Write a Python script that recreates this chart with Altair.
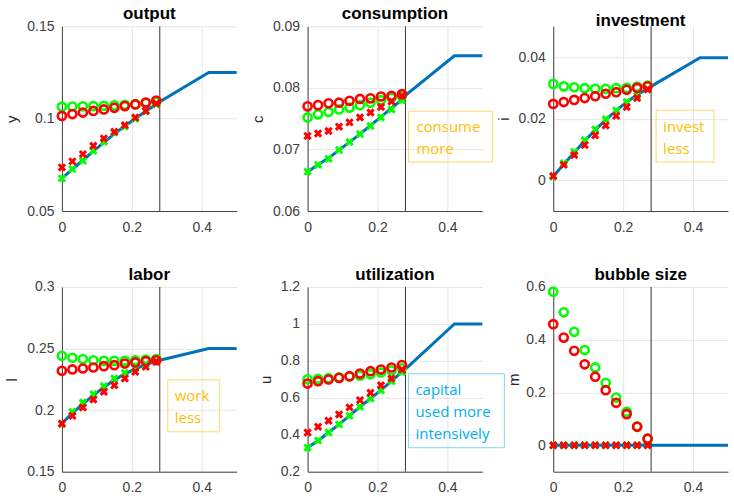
import altair as alt
import pandas as pd

# marker x positions and blue-line x positions
mx = [0, 0.03, 0.06, 0.09, 0.12, 0.15, 0.18, 0.21, 0.24, 0.27]
lx = [0, 0.03, 0.06, 0.09, 0.12, 0.15, 0.18, 0.21, 0.24, 0.27, 0.28, 0.42, 0.5]
x_ticks = [0, 0.2, 0.4]
cutoff = 0.28

# output
out_line = [0.0677, 0.0727, 0.0775, 0.0824, 0.0872, 0.0918, 0.0960, 0.1001, 0.1040, 0.1078, 0.1092, 0.125, 0.125]
out_gx = [0.0677, 0.0727, 0.0772, 0.0826, 0.0875, 0.0925, 0.0958, 0.1000, 0.1040, 0.1078]
out_rx = [0.0736, 0.0769, 0.0808, 0.0853, 0.0893, 0.0929, 0.0965, 0.1006, 0.1042, 0.1082]
out_go = [0.1065, 0.1066, 0.1067, 0.1068, 0.1070, 0.1072, 0.1075, 0.1079, 0.1085, 0.1092]
out_ro = [0.1015, 0.1025, 0.1033, 0.1042, 0.1050, 0.1059, 0.1068, 0.1077, 0.1087, 0.1098]

# consumption
con_line = [0.0664, 0.0675, 0.0686, 0.0699, 0.0712, 0.0725, 0.0739, 0.0753, 0.0767, 0.0781, 0.0788, 0.0852, 0.0852]
con_gx = [0.0664, 0.0675, 0.0685, 0.0699, 0.0712, 0.0725, 0.0738, 0.0752, 0.0765, 0.0780]
con_rx = [0.0722, 0.0726, 0.0730, 0.0737, 0.0744, 0.0752, 0.0760, 0.0769, 0.0778, 0.0787]
con_go = [0.0752, 0.0757, 0.0761, 0.0765, 0.0768, 0.0772, 0.0776, 0.0780, 0.0784, 0.0787]
con_ro = [0.0770, 0.0772, 0.0775, 0.0776, 0.0779, 0.0782, 0.0783, 0.0786, 0.0787, 0.0790]

# investment
inv_line = [0.0012, 0.0052, 0.0090, 0.0128, 0.0163, 0.0196, 0.0226, 0.0254, 0.0277, 0.0298, 0.0305, 0.0398, 0.0398]
inv_gx = [0.0012, 0.0055, 0.0092, 0.0130, 0.0165, 0.0198, 0.0227, 0.0254, 0.0275, 0.0297]
inv_rx = [0.0014, 0.0050, 0.0082, 0.0114, 0.0146, 0.0178, 0.0209, 0.0238, 0.0267, 0.0295]
inv_go = [0.0313, 0.0305, 0.0302, 0.0299, 0.0297, 0.0297, 0.0299, 0.0300, 0.0304, 0.0307]
inv_ro = [0.0248, 0.0254, 0.0261, 0.0267, 0.0273, 0.0281, 0.0286, 0.0294, 0.0300, 0.0305]

# labor
lab_line = [0.1892, 0.1975, 0.2050, 0.2120, 0.2185, 0.2245, 0.2295, 0.2335, 0.2370, 0.2398, 0.2405, 0.2500, 0.2500]
lab_gx = [0.1890, 0.1986, 0.2062, 0.2129, 0.2194, 0.2257, 0.2302, 0.2338, 0.2373, 0.2400]
lab_rx = [0.1890, 0.1954, 0.2021, 0.2086, 0.2149, 0.2202, 0.2257, 0.2311, 0.2351, 0.2392]
lab_go = [0.2441, 0.2425, 0.2414, 0.2405, 0.2400, 0.2400, 0.2400, 0.2405, 0.2410, 0.2414]
lab_ro = [0.2319, 0.2330, 0.2338, 0.2346, 0.2357, 0.2365, 0.2378, 0.2387, 0.2397, 0.2405]

# utilization
utl_line = [0.331, 0.368, 0.412, 0.456, 0.503, 0.551, 0.596, 0.641, 0.690, 0.740, 0.755, 1.0, 1.0]
utl_gx = [0.330, 0.368, 0.412, 0.456, 0.503, 0.551, 0.596, 0.641, 0.690, 0.740]
utl_rx = [0.412, 0.443, 0.476, 0.510, 0.548, 0.587, 0.627, 0.668, 0.704, 0.753]
utl_go = [0.700, 0.703, 0.706, 0.710, 0.715, 0.720, 0.728, 0.737, 0.748, 0.760]
utl_ro = [0.677, 0.690, 0.699, 0.708, 0.717, 0.731, 0.744, 0.753, 0.764, 0.777]

# bubble size
bub_line = [0, 0, 0, 0, 0, 0, 0, 0, 0, 0, 0, 0, 0]
bub_gx = [0, 0, 0, 0, 0, 0, 0, 0, 0, 0]
bub_rx = [0, 0, 0, 0, 0, 0, 0, 0, 0, 0]
bub_go = [0.582, 0.504, 0.430, 0.361, 0.295, 0.237, 0.181, 0.127, 0.072, 0.025]
bub_ro = [0.459, 0.408, 0.358, 0.307, 0.260, 0.209, 0.161, 0.118, 0.070, 0.025]

ORANGE = "#FFC000"
CYAN = "#00B0F0"
W, H = 175, 185
FONT = "Liberation Sans"
NOTE_FONT = "Open Sans"

CROSS = "M-1,-1L1,1M1,-1L-1,1"
LABEL = "'' + datum.value"


def note_layers(box, lines, color, border):
    one = pd.DataFrame({"k": [0]})
    x0, y0, x1, y1, tx, ty = box
    rect = alt.Chart(one).mark_rect(
        fill="white", fillOpacity=0, stroke=border, strokeWidth=1
    ).encode(x=alt.value(x0), x2=alt.value(x1), y=alt.value(y0), y2=alt.value(y1))
    txt = alt.Chart(one).mark_text(
        align="left", baseline="middle", font=NOTE_FONT, fontSize=15,
        color=color, lineHeight=22
    ).encode(x=alt.value(tx), y=alt.value(ty), text=alt.value(lines))
    return [rect, txt]


def panel(title, ytitle, ydom, yticks, line_y, gx, rx, go, ro, notes=None, extent=38):
    rows = []
    for x, y in zip(lx, line_y):
        rows.append({"x": x, "y": y, "s": "line"})
    for s, arr in (("gx", gx), ("rx", rx), ("go", go), ("ro", ro)):
        for x, y in zip(mx, arr):
            rows.append({"x": x, "y": y, "s": s})
    df = pd.DataFrame(rows)
    xenc = alt.X("x:Q", scale=alt.Scale(domain=[0, 0.5], nice=False),
                 axis=alt.Axis(values=x_ticks, title=None, labelExpr=LABEL, labelFlush=False))
    yenc = alt.Y("y:Q", scale=alt.Scale(domain=ydom, nice=False, zero=False),
                 axis=alt.Axis(values=yticks, title=ytitle, labelExpr=LABEL, labelFlush=False,
                               minExtent=extent, maxExtent=extent))
    base = alt.Chart(df)
    line = base.transform_filter("datum.s == 'line'").mark_line(
        color="#0072BD", strokeWidth=3).encode(xenc, yenc)
    rule = alt.Chart(pd.DataFrame({"k": [0]})).mark_rule(
        color="#333333", strokeWidth=1).encode(x=alt.datum(cutoff))
    go_l = base.transform_filter("datum.s == 'go'").mark_point(
        shape="circle", filled=False, color="#00FF00", strokeWidth=2.6, size=66, opacity=1
    ).encode(xenc, yenc)
    gx_l = base.transform_filter("datum.s == 'gx'").mark_point(
        shape=CROSS, filled=False, color="#00FF00", strokeWidth=3, size=40, opacity=1
    ).encode(xenc, yenc)
    ro_l = base.transform_filter("datum.s == 'ro'").mark_point(
        shape="circle", filled=False, color="#FF0000", strokeWidth=2.6, size=66, opacity=1
    ).encode(xenc, yenc)
    rx_l = base.transform_filter("datum.s == 'rx'").mark_point(
        shape=CROSS, filled=False, color="#FF0000", strokeWidth=3, size=40, opacity=1
    ).encode(xenc, yenc)
    layers = [line, rule, go_l, gx_l, ro_l, rx_l]
    if notes:
        layers += notes
    return alt.layer(*layers).properties(width=W, height=H, title=title)


p1 = panel("output", "y", [0.05, 0.15], [0.05, 0.1, 0.15],
           out_line, out_gx, out_rx, out_go, out_ro)
p2 = panel("consumption", "c", [0.06, 0.09], [0.06, 0.07, 0.08, 0.09],
           con_line, con_gx, con_rx, con_go, con_ro,
           note_layers((101, 85, 185, 136, 109, 101), ["consume", "more"], ORANGE, "#FFD966"))
p3 = panel("investment", "i", [-0.01, 0.05], [0, 0.02, 0.04],
           inv_line, inv_gx, inv_rx, inv_go, inv_ro,
           note_layers((103, 84, 161, 136, 110, 101), ["invest", "less"], ORANGE, "#FFD966"))
p4 = panel("labor", "l", [0.15, 0.3], [0.15, 0.2, 0.25, 0.3],
           lab_line, lab_gx, lab_rx, lab_go, lab_ro,
           note_layers((106, 93, 158, 145, 113, 109), ["work", "less"], ORANGE, "#FFD966"))
p5 = panel("utilization", "u", [0.2, 1.2], [0.2, 0.4, 0.6, 0.8, 1, 1.2],
           utl_line, utl_gx, utl_rx, utl_go, utl_ro,
           note_layers((101, 87, 197, 161, 108, 103), ["capital", "used more", "intensively"], CYAN, "#7FD4F5"),
           extent=30)
p6 = panel("bubble size", "m", [-0.1, 0.6], [0, 0.2, 0.4, 0.6],
           bub_line, bub_gx, bub_rx, bub_go, bub_ro, extent=28)

chart = alt.concat(p1, p2, p3, p4, p5, p6, columns=3, spacing={"row": 76, "column": 71},
                   bounds="flush").properties(
    padding={"left": 5, "top": 5, "right": 0, "bottom": 0},
    background="white",
).configure_view(strokeWidth=0).configure_axis(
    domainColor="#404040", domainWidth=1, gridColor="#e6e6e6", gridWidth=1,
    labelFont=FONT, labelFontSize=14, labelColor="#404040",
    titleFont=FONT, titleFontSize=15, titleFontWeight="normal", titleColor="#262626",
    ticks=False,
).configure_axisY(labelPadding=8, titlePadding=4).configure_axisX(
    labelPadding=9
).configure_title(
    font=FONT, fontSize=17, fontWeight="bold", color="black", anchor="middle", offset=-4
)

chart.save("out.html", embed_options={"renderer": "svg", "actions": False})
